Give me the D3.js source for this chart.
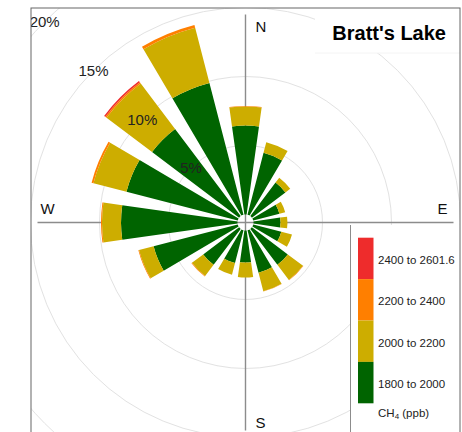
<!DOCTYPE html>
<html>
<head>
<meta charset="utf-8">
<script src="https://cdn.jsdelivr.net/npm/d3@7"></script>
<style>
  body { margin: 0; background: #fff; }
  svg { font-family: "Liberation Sans", Arial, Helvetica, sans-serif; }
</style>
</head>
<body>
<div id="chart"></div>
<script>
// wind directions (degrees) and CH4 concentration bins
var directions = [0, 22.5, 45, 67.5, 90, 112.5, 135, 157.5, 180, 202.5, 225, 247.5, 270, 292.5, 315, 337.5];
var bins = ["1800 to 2000", "2000 to 2200", "2200 to 2400", "2400 to 2601.6"];
var binColors = ["#006400", "#CDAD00", "#FF7F00", "#EE2C2C"];

// frequency (%) of each bin per direction
var freq1800 = [6.45, 4.64, 3.04, 1.96, 1.96, 2.10, 3.26, 3.19, 2.32, 2.46, 3.26, 6.30, 8.44, 8.33, 7.90, 9.86];
var freq2000 = [1.38, 0.79, 0.44, 0.43, 0.50, 0.80, 1.38, 1.38, 1.09, 0.87, 1.02, 1.09, 1.38, 2.47, 4.13, 4.13];
var freq2200 = [0.04, 0, 0, 0, 0, 0, 0.03, 0.02, 0, 0, 0.04, 0.05, 0.07, 0.14, 0.11, 0.21];
var freq2400 = [0, 0, 0, 0, 0, 0, 0, 0, 0, 0, 0, 0, 0, 0, 0.11, 0];

var gridTicks = [5, 10, 15, 20];
var compass = ["N", "E", "S", "W"];

var w = 462, h = 432;
var cx = 245.5, cy = 222.5;
var panel = {x: 31, y: 8, size: 429};
var halfWidth = 8; // degrees

var r = d3.scaleLinear().domain([0, 20]).range([8, 284]);

var svg = d3.select("#chart")
			.append("svg")
			.attr("width", w)
			.attr("height", h);

svg.append("clipPath").attr("id", "panelClip")
   .append("rect")
   .attr("x", panel.x).attr("y", panel.y)
   .attr("width", panel.size).attr("height", panel.size);

var g = svg.append("g").attr("clip-path", "url(#panelClip)");
var c = g.append("g").attr("transform", "translate(" + cx + "," + cy + ")");

// grid circles
c.selectAll("circle.grid")
 .data(gridTicks)
 .enter()
 .append("circle")
 .attr("class", "grid")
 .attr("r", function(d) { return r(d); })
 .attr("fill", "none")
 .attr("stroke", "#e2e2e2")
 .attr("stroke-width", 1);

// axis lines
var axisLen = 208;
c.append("line").attr("x1", -axisLen).attr("x2", axisLen).attr("y1", 0).attr("y2", 0)
 .attr("stroke", "#8c8c8c").attr("stroke-width", 1.4);
c.append("line").attr("x1", 0).attr("x2", 0).attr("y1", -axisLen).attr("y2", axisLen)
 .attr("stroke", "#8c8c8c").attr("stroke-width", 1.4);

// stacked bars
var series = [freq1800, freq2000, freq2200, freq2400];
var segs = [];
directions.forEach(function(dir, i) {
	var cum = 0;
	series.forEach(function(s, k) {
		if (s[i] > 0) {
			segs.push({dir: dir, k: k, y0: cum, y1: cum + s[i]});
		}
		cum += s[i];
	});
});

var arc = d3.arc()
	.innerRadius(function(d) { return r(d.y0); })
	.outerRadius(function(d) { return r(d.y1); })
	.startAngle(function(d) { return (d.dir - halfWidth) * Math.PI / 180; })
	.endAngle(function(d) { return (d.dir + halfWidth) * Math.PI / 180; });

c.selectAll("path.bar")
 .data(segs)
 .enter()
 .append("path")
 .attr("class", "bar")
 .attr("d", arc)
 .attr("fill", function(d) { return binColors[d.k]; });

// percentage labels along the NW diagonal
c.selectAll("text.pct")
 .data(gridTicks)
 .enter()
 .append("text")
 .attr("class", "pct")
 .attr("x", function(d) { return -r(d) * Math.SQRT1_2; })
 .attr("y", function(d) { return -r(d) * Math.SQRT1_2; })
 .attr("dy", "0.36em")
 .attr("text-anchor", "middle")
 .attr("font-size", "15px")
 .attr("fill", "#222")
 .text(function(d) { return d + "%"; });

// compass labels
var compassPos = {
	N: {x: 10, y: -axisLen + 17, a: "start"},
	E: {x: axisLen - 6, y: -9, a: "end"},
	S: {x: 10, y: axisLen - 3, a: "start"},
	W: {x: -axisLen + 3, y: -9, a: "start"}
};
c.selectAll("text.compass")
 .data(compass)
 .enter()
 .append("text")
 .attr("class", "compass")
 .attr("x", function(d) { return compassPos[d].x; })
 .attr("y", function(d) { return compassPos[d].y; })
 .attr("text-anchor", function(d) { return compassPos[d].a; })
 .attr("font-size", "15px")
 .attr("fill", "#111")
 .text(function(d) { return d; });

// title box
g.append("rect")
 .attr("x", 315).attr("y", panel.y).attr("width", 150).attr("height", 45)
 .attr("fill", "#fff");
g.append("line")
 .attr("x1", 315).attr("x2", 460).attr("y1", 53).attr("y2", 53)
 .attr("stroke", "#f4f4f4");
g.append("text")
 .attr("x", 446).attr("y", 40)
 .attr("text-anchor", "end")
 .attr("font-size", "20px")
 .attr("font-weight", "bold")
 .attr("fill", "#000")
 .text("Bratt's Lake");

// legend box
g.append("rect")
 .attr("x", 350).attr("y", 225).attr("width", 120).attr("height", 220)
 .attr("fill", "#fff");
g.append("line")
 .attr("x1", 350.5).attr("x2", 350.5).attr("y1", 225).attr("y2", 440)
 .attr("stroke", "#8c8c8c").attr("stroke-width", 1);

var keyH = 41.4, keyTop = 237.7;
var legend = g.selectAll("g.key")
	.data(bins.slice().reverse())
	.enter()
	.append("g")
	.attr("class", "key")
	.attr("transform", function(d, i) { return "translate(358," + (keyTop + i * keyH) + ")"; });

legend.append("rect")
	.attr("width", 15.5)
	.attr("height", keyH)
	.attr("fill", function(d, i) { return binColors[bins.length - 1 - i]; });

legend.append("text")
	.attr("x", 20)
	.attr("y", keyH / 2 + 1.5)
	.attr("dy", "0.35em")
	.attr("font-size", "11.5px")
	.attr("fill", "#222")
	.text(function(d) { return d; });

var ch4 = g.append("text")
	.attr("x", 378).attr("y", 417)
	.attr("font-size", "11.5px")
	.attr("fill", "#222");
ch4.append("tspan").text("CH");
ch4.append("tspan").attr("font-size", "8px").attr("dy", 2).text("4");
ch4.append("tspan").attr("dy", -2).text(" (ppb)");

// panel frame
svg.append("rect")
   .attr("x", panel.x).attr("y", panel.y)
   .attr("width", panel.size).attr("height", panel.size)
   .attr("fill", "none")
   .attr("stroke", "#666")
   .attr("stroke-width", 1);
</script>
</body>
</html>
